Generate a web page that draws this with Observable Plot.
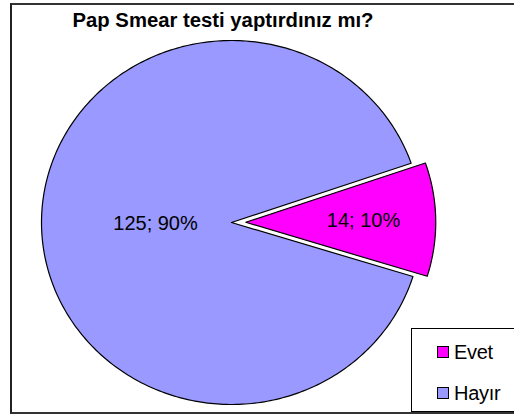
<!DOCTYPE html>
<html>
<head>
<meta charset="utf-8">
<script src="https://cdn.jsdelivr.net/npm/d3@7"></script>
<script src="https://cdn.jsdelivr.net/npm/@observablehq/plot@0.6"></script>
<style>
  html, body { margin: 0; padding: 0; background: #fff; }
  #wrap { position: relative; width: 514px; height: 414px; overflow: hidden; font-family: "Liberation Sans", Arial, sans-serif; }
  #frame { position: absolute; left: 10px; top: 3px; width: 520px; height: 407px; border-left: 2px solid #222; border-top: 2px solid #333; border-bottom: 2px solid #333; }
  #title { position: absolute; left: 0; width: 446px; top: 9px; text-align: center; font-weight: bold; font-size: 20.3px; letter-spacing: 0px; color: #000; }
  #chart { position: absolute; left: 0; top: 0; }
  #legend { position: absolute; left: 411px; top: 328px; width: 120px; height: 82px; border: 1px solid #000; background: #fff; }
  .item { position: absolute; left: 25px; font-size: 20px; letter-spacing: -0.3px; display: flex; align-items: center; line-height: 20px; }
  .sw { width: 10px; height: 10px; border: 1px solid #000; margin-right: 5px; }
</style>
</head>
<body>
<div id="wrap">
  <div id="frame"></div>
  <div id="chart"></div>
  <div id="title"></div>
  <div id="legend"></div>
</div>
<script>
const title = "Pap Smear testi yaptırdınız mı?";
const categories = ["Evet", "Hayır"];
const values = [14, 125];
const percents = [10, 90];
const colors = ["#FF00FF", "#9999FF"];
const exploded = [0.075, 0];

document.getElementById("title").textContent = title;

const data = categories.map((c, i) => ({category: c, value: values[i], pct: percents[i], color: colors[i], explode: exploded[i]}));

const start = 71 * Math.PI / 180;
const arcs = d3.pie().sort(null).value(d => d.value).startAngle(start).endAngle(start + 2 * Math.PI)(data);

const wedgePts = [];
const labels = [];
const labelR = [0.62, 0.4];
arcs.forEach((a, i) => {
  const mid = (a.startAngle + a.endAngle) / 2;
  const ox = a.data.explode * Math.sin(mid);
  const oy = a.data.explode * Math.cos(mid);
  const n = Math.max(8, Math.ceil((a.endAngle - a.startAngle) * 60));
  wedgePts.push({u: ox, v: oy, k: a.data.category, color: a.data.color});
  for (let j = 0; j <= n; j++) {
    const t = a.startAngle + (a.endAngle - a.startAngle) * j / n;
    wedgePts.push({u: ox + Math.sin(t), v: oy + Math.cos(t), k: a.data.category, color: a.data.color});
  }
  wedgePts.push({u: ox, v: oy, k: a.data.category, color: a.data.color});
  labels.push({u: ox + labelR[i] * Math.sin(mid), v: oy + labelR[i] * Math.cos(mid), text: `${a.data.value}; ${a.data.pct}%`});
});

const cx = 231, cy = 222, rx = 190, ry = 182, W = 514, H = 414;

const chart = Plot.plot({
  width: W, height: H,
  margin: 0,
  x: {domain: [-cx / rx, (W - cx) / rx], axis: null},
  y: {domain: [-(H - cy) / ry, cy / ry], axis: null},
  style: {background: "transparent", fontFamily: "'Liberation Sans', Arial, sans-serif"},
  marks: [
    Plot.line(wedgePts, {x: "u", y: "v", z: "k", fill: "color", stroke: "#000", strokeWidth: 1.2, curve: "linear-closed"}),
    Plot.text(labels, {x: "u", y: "v", text: "text", fontSize: 20, fill: "#000", letterSpacing: -0.3})
  ]
});
document.getElementById("chart").appendChild(chart);

const leg = document.getElementById("legend");
categories.forEach((c, i) => {
  const it = document.createElement("div");
  it.className = "item";
  it.style.top = (i === 0 ? 13 : 54) + "px";
  const sw = document.createElement("div");
  sw.className = "sw";
  sw.style.background = colors[i];
  const tx = document.createElement("span");
  tx.textContent = c;
  it.appendChild(sw);
  it.appendChild(tx);
  leg.appendChild(it);
});
</script>
</body>
</html>
